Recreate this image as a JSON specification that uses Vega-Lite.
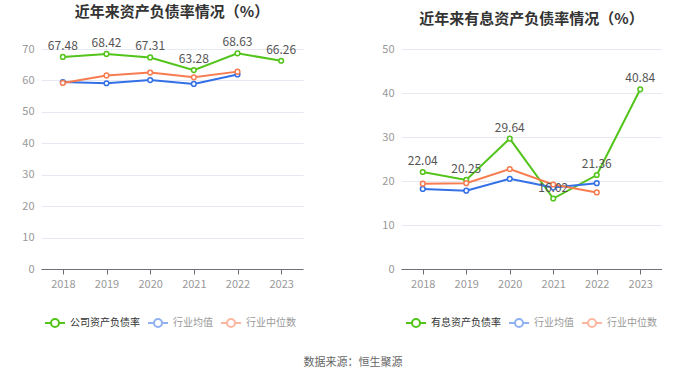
{
  "$schema": "https://vega.github.io/schema/vega-lite/v6.json",
  "autosize": {"type": "pad"},
  "padding": {"left": 21, "top": 5, "right": 0, "bottom": 0},
  "background": "white",
  "title": {"text": "数据来源：恒生聚源", "orient": "bottom", "anchor": "middle", "fontSize": 11, "fontWeight": "normal", "color": "#666666", "offset": 26, "dx": 11, "font": "Noto Sans CJK SC"},
  "datasets": {
    "left": [
      {"year": "2018", "series": "公司资产负债率", "value": 67.48},
      {"year": "2019", "series": "公司资产负债率", "value": 68.42},
      {"year": "2020", "series": "公司资产负债率", "value": 67.31},
      {"year": "2021", "series": "公司资产负债率", "value": 63.28},
      {"year": "2022", "series": "公司资产负债率", "value": 68.63},
      {"year": "2023", "series": "公司资产负债率", "value": 66.26},
      {"year": "2018", "series": "行业均值", "value": 59.5},
      {"year": "2019", "series": "行业均值", "value": 59.1},
      {"year": "2020", "series": "行业均值", "value": 60.1},
      {"year": "2021", "series": "行业均值", "value": 58.9},
      {"year": "2022", "series": "行业均值", "value": 61.9},
      {"year": "2018", "series": "行业中位数", "value": 59.2},
      {"year": "2019", "series": "行业中位数", "value": 61.6},
      {"year": "2020", "series": "行业中位数", "value": 62.5},
      {"year": "2021", "series": "行业中位数", "value": 61.0},
      {"year": "2022", "series": "行业中位数", "value": 62.8}
    ],
    "right": [
      {"year": "2018", "series": "有息资产负债率", "value": 22.04},
      {"year": "2019", "series": "有息资产负债率", "value": 20.25},
      {"year": "2020", "series": "有息资产负债率", "value": 29.64},
      {"year": "2021", "series": "有息资产负债率", "value": 16.02},
      {"year": "2022", "series": "有息资产负债率", "value": 21.36},
      {"year": "2023", "series": "有息资产负债率", "value": 40.84},
      {"year": "2018", "series": "行业均值", "value": 18.2},
      {"year": "2019", "series": "行业均值", "value": 17.8},
      {"year": "2020", "series": "行业均值", "value": 20.5},
      {"year": "2021", "series": "行业均值", "value": 18.5},
      {"year": "2022", "series": "行业均值", "value": 19.5},
      {"year": "2018", "series": "行业中位数", "value": 19.4},
      {"year": "2019", "series": "行业中位数", "value": 19.5},
      {"year": "2020", "series": "行业中位数", "value": 22.7},
      {"year": "2021", "series": "行业中位数", "value": 19.2},
      {"year": "2022", "series": "行业中位数", "value": 17.4}
    ]
  },
  "hconcat": [
    {
      "width": 262,
      "height": 220,
      "title": {"text": "近年来资产负债率情况（%）"},
      "data": {"name": "left"},
      "encoding": {
        "x": {"field": "year", "type": "ordinal", "scale": {"type": "point", "padding": 0.5}, "axis": {"title": null}},
        "y": {"field": "value", "type": "quantitative", "scale": {"domain": [0, 70], "nice": false}, "axis": {"title": null, "values": [0, 10, 20, 30, 40, 50, 60, 70]}}
      },
      "layer": [
        {
          "mark": {"type": "line", "strokeWidth": 2, "point": {"filled": false, "fill": "white", "size": 22, "strokeWidth": 1.5}},
          "encoding": {
            "color": {
              "field": "series", "type": "nominal",
              "scale": {"domain": ["公司资产负债率", "行业均值", "行业中位数"], "range": ["#52c41a", "#3370e6", "#f77c50"]},
              "legend": {
                "title": null, "orient": "none", "legendX": 3, "legendY": 263, "direction": "horizontal",
                "encode": {
                  "symbols": {"update": {"strokeOpacity": [{"test": "datum.index === 0", "value": 1}, {"value": 0.55}]}},
                  "labels": {"update": {"fill": [{"test": "datum.index === 0", "value": "#333333"}, {"value": "#999999"}]}}
                }
              }
            }
          }
        },
        {
          "transform": [{"filter": "datum.series === '公司资产负债率'"}],
          "mark": {"type": "text", "dy": -11, "fontSize": 12, "color": "#555555"},
          "encoding": {"text": {"field": "value", "type": "quantitative", "format": ".2f"}}
        }
      ]
    },
    {
      "width": 261,
      "height": 220,
      "title": {"text": "近年来有息资产负债率情况（%）"},
      "data": {"name": "right"},
      "encoding": {
        "x": {"field": "year", "type": "ordinal", "scale": {"type": "point", "padding": 0.5}, "axis": {"title": null}},
        "y": {"field": "value", "type": "quantitative", "scale": {"domain": [0, 50], "nice": false}, "axis": {"title": null, "values": [0, 10, 20, 30, 40, 50]}}
      },
      "layer": [
        {
          "mark": {"type": "line", "strokeWidth": 2, "point": {"filled": false, "fill": "white", "size": 22, "strokeWidth": 1.5}},
          "encoding": {
            "color": {
              "field": "series", "type": "nominal",
              "scale": {"domain": ["有息资产负债率", "行业均值", "行业中位数"], "range": ["#52c41a", "#3370e6", "#f77c50"]},
              "legend": {
                "title": null, "orient": "none", "legendX": 4, "legendY": 263, "direction": "horizontal",
                "encode": {
                  "symbols": {"update": {"strokeOpacity": [{"test": "datum.index === 0", "value": 1}, {"value": 0.55}]}},
                  "labels": {"update": {"fill": [{"test": "datum.index === 0", "value": "#333333"}, {"value": "#999999"}]}}
                }
              }
            }
          }
        },
        {
          "transform": [{"filter": "datum.series === '有息资产负债率'"}],
          "mark": {"type": "text", "dy": -11, "fontSize": 12, "color": "#555555"},
          "encoding": {"text": {"field": "value", "type": "quantitative", "format": ".2f"}}
        }
      ]
    }
  ],
  "spacing": 78,
  "resolve": {"scale": {"color": "independent", "x": "independent", "y": "independent"}, "legend": {"color": "independent"}},
  "config": {
    "font": "Noto Sans CJK SC",
    "view": {"stroke": null},
    "title": {"fontSize": 15, "fontWeight": "bold", "color": "#333333", "anchor": "middle", "offset": 16},
    "axisX": {"labelAngle": 0, "labelColor": "#999999", "labelFontSize": 11, "domainColor": "#6e7079", "tickColor": "#6e7079", "tickSize": 5, "labelPadding": 4, "grid": false},
    "axisY": {"labelColor": "#999999", "labelFontSize": 11, "domain": false, "ticks": false, "gridColor": "#e6e9f2", "labelPadding": 7},
    "legend": {"symbolType": "M-1,0L-0.4,0M0.4,0A0.4,0.4,0,1,1,-0.4,0A0.4,0.4,0,1,1,0.4,0M0.4,0L1,0", "symbolSize": 400, "symbolStrokeWidth": 2, "symbolFillColor": "white", "labelFontSize": 10, "columnPadding": 4, "labelOffset": 4}
  }
}
